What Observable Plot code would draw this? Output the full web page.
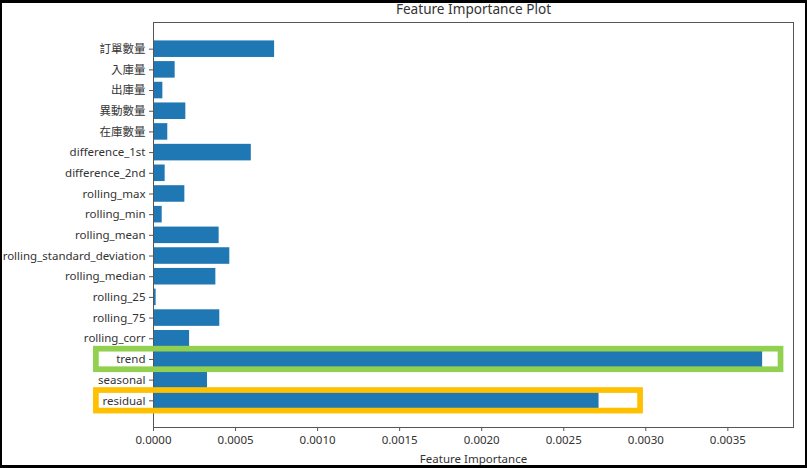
<!DOCTYPE html>
<html>
<head>
<meta charset="utf-8">
<script src="https://cdn.jsdelivr.net/npm/d3@7"></script>
<script src="https://cdn.jsdelivr.net/npm/@observablehq/plot@0.6"></script>
<style>
  html, body { margin: 0; padding: 0; background: #fff; }
  #wrap { position: relative; width: 807px; height: 468px; overflow: hidden; }
  #border { position: absolute; left: 0; top: 0; width: 807px; height: 468px; box-sizing: border-box;
            border-left: 2px solid #000; border-top: 3px solid #000; border-right: 2px solid #000; border-bottom: 3px solid #000; pointer-events: none; }
</style>
</head>
<body>
<div id="wrap"><div id="chart"></div><div id="border"></div></div>
<script>
const features = ["訂單數量", "入庫量", "出庫量", "異動數量", "在庫數量", "difference_1st", "difference_2nd",
  "rolling_max", "rolling_min", "rolling_mean", "rolling_standard_deviation", "rolling_median",
  "rolling_25", "rolling_75", "rolling_corr", "trend", "seasonal", "residual"];
const importances = [0.000738, 0.000132, 0.000057, 0.000197, 0.000087, 0.000596, 0.000071,
  0.000191, 0.000053, 0.000400, 0.000465, 0.000380,
  0.000016, 0.000404, 0.000220, 0.003712, 0.000329, 0.002715];
const xTicks = [0, 0.0005, 0.0010, 0.0015, 0.0020, 0.0025, 0.0030, 0.0035];
const highlightFeatures = ["trend", "residual"];
const highlightFrom = [-0.000348, -0.000348];
const highlightTo = [0.003824, 0.002968];
const highlightColors = ["#92D050", "#FFC000"];
const title = "Feature Importance Plot";
const xLabel = "Feature Importance";

const data = features.map((f, i) => ({feature: f, importance: importances[i]}));
const highlights = highlightFeatures.map((f, i) => ({feature: f, from: highlightFrom[i], to: highlightTo[i], color: highlightColors[i]}));

const font = "'Noto Sans', 'Noto Sans CJK TC', sans-serif";
const chart = Plot.plot({
  width: 807,
  height: 468,
  marginLeft: 153,
  marginRight: 14,
  marginTop: 22,
  marginBottom: 41,
  style: {fontFamily: font, fontSize: "11.5px", color: "#333", background: "#fff"},
  x: {domain: [0, 0.0039]},
  y: {domain: features, paddingInner: 0.2, paddingOuter: 0.89, round: false},
  marks: [
    Plot.barX(data, {y: "feature", x: "importance", fill: "#1f77b4"}),
    Plot.frame({stroke: "#555", strokeWidth: 1}),
    Plot.axisX({ticks: xTicks, tickFormat: d3.format(".4f"), tickSize: 4, tickPadding: 4, label: null, stroke: "#555"}),
    Plot.axisY({tickSize: 4, tickPadding: 4, label: null, stroke: "#555"}),
    Plot.barX(highlights, {y: "feature", x1: "from", x2: "to", stroke: "color", fill: "none", strokeWidth: 5.7, insetTop: -2, insetBottom: -2}),
    Plot.text([title], {frameAnchor: "top", dy: -18, fontSize: 13.6, fill: "#333"}),
    Plot.text([xLabel], {frameAnchor: "bottom", dy: 35, fontSize: 11.5, fill: "#333"})
  ]
});
document.getElementById("chart").appendChild(chart);
</script>
</body>
</html>
